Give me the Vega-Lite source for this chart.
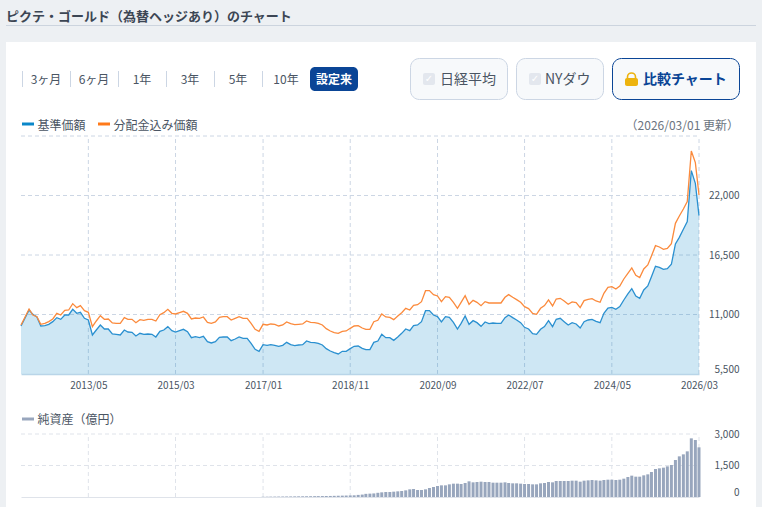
{
  "$schema": "https://vega.github.io/schema/vega-lite/v6.json",
  "description": "Fund price chart with a net assets panel underneath, on one canvas.",
  "width": 762,
  "height": 507,
  "padding": 0,
  "autosize": "none",
  "background": "#edf0f3",
  "config": {
    "font": "Noto Sans CJK JP",
    "view": {"stroke": null},
    "text": {"font": "Noto Sans CJK JP", "baseline": "middle", "color": "#4a5563"}
  },
  "data": {"values": [{"part": "chrome"}]},
  "datasets": {
    "fund": [
      {"date":"2011-12-01","base":9938,"dist":10030,"assets":0},
      {"date":"2012-01-01","base":10677,"dist":10770,"assets":0},
      {"date":"2012-02-01","base":11417,"dist":11509,"assets":0},
      {"date":"2012-03-01","base":11016,"dist":10955,"assets":0},
      {"date":"2012-04-01","base":10770,"dist":10801,"assets":0},
      {"date":"2012-05-01","base":9938,"dist":10092,"assets":0},
      {"date":"2012-06-01","base":9969,"dist":10184,"assets":0},
      {"date":"2012-07-01","base":10092,"dist":10338,"assets":0},
      {"date":"2012-08-01","base":10338,"dist":10585,"assets":0},
      {"date":"2012-09-01","base":10708,"dist":11109,"assets":0},
      {"date":"2012-10-01","base":10554,"dist":10955,"assets":0},
      {"date":"2012-11-01","base":10955,"dist":11386,"assets":0},
      {"date":"2012-12-01","base":10955,"dist":11417,"assets":0},
      {"date":"2013-01-01","base":11478,"dist":12002,"assets":0},
      {"date":"2013-02-01","base":11109,"dist":11633,"assets":0},
      {"date":"2013-03-01","base":11201,"dist":11817,"assets":0},
      {"date":"2013-04-01","base":10646,"dist":11355,"assets":0},
      {"date":"2013-05-01","base":10493,"dist":11201,"assets":0},
      {"date":"2013-06-01","base":9106,"dist":9876,"assets":0},
      {"date":"2013-07-01","base":9568,"dist":10400,"assets":0},
      {"date":"2013-08-01","base":10030,"dist":10893,"assets":0},
      {"date":"2013-09-01","base":9661,"dist":10554,"assets":0},
      {"date":"2013-10-01","base":9661,"dist":10585,"assets":0},
      {"date":"2013-11-01","base":9198,"dist":10215,"assets":0},
      {"date":"2013-12-01","base":9168,"dist":10184,"assets":0},
      {"date":"2014-01-01","base":9106,"dist":10184,"assets":0},
      {"date":"2014-02-01","base":9568,"dist":10708,"assets":0},
      {"date":"2014-03-01","base":9383,"dist":10554,"assets":0},
      {"date":"2014-04-01","base":9353,"dist":10554,"assets":0},
      {"date":"2014-05-01","base":9014,"dist":10246,"assets":0},
      {"date":"2014-06-01","base":9260,"dist":10523,"assets":0},
      {"date":"2014-07-01","base":9168,"dist":10462,"assets":0},
      {"date":"2014-08-01","base":9198,"dist":10554,"assets":0},
      {"date":"2014-09-01","base":9168,"dist":10554,"assets":0},
      {"date":"2014-10-01","base":8921,"dist":10400,"assets":0},
      {"date":"2014-11-01","base":9445,"dist":10986,"assets":0},
      {"date":"2014-12-01","base":9568,"dist":11170,"assets":0},
      {"date":"2015-01-01","base":9876,"dist":11478,"assets":0},
      {"date":"2015-02-01","base":9507,"dist":11109,"assets":0},
      {"date":"2015-03-01","base":9383,"dist":11047,"assets":0},
      {"date":"2015-04-01","base":9507,"dist":11170,"assets":0},
      {"date":"2015-05-01","base":9630,"dist":11294,"assets":0},
      {"date":"2015-06-01","base":9414,"dist":11109,"assets":0},
      {"date":"2015-07-01","base":8860,"dist":10585,"assets":0},
      {"date":"2015-08-01","base":8952,"dist":10677,"assets":0},
      {"date":"2015-09-01","base":8860,"dist":10646,"assets":0},
      {"date":"2015-10-01","base":8983,"dist":10770,"assets":0},
      {"date":"2015-11-01","base":8490,"dist":10277,"assets":0},
      {"date":"2015-12-01","base":8367,"dist":10184,"assets":0},
      {"date":"2016-01-01","base":8490,"dist":10308,"assets":0},
      {"date":"2016-02-01","base":8890,"dist":10739,"assets":0},
      {"date":"2016-03-01","base":8921,"dist":10801,"assets":0},
      {"date":"2016-04-01","base":8921,"dist":10801,"assets":0},
      {"date":"2016-05-01","base":8582,"dist":10493,"assets":0},
      {"date":"2016-06-01","base":8736,"dist":10646,"assets":0},
      {"date":"2016-07-01","base":8921,"dist":10801,"assets":0},
      {"date":"2016-08-01","base":8798,"dist":10646,"assets":0},
      {"date":"2016-09-01","base":8798,"dist":10646,"assets":0},
      {"date":"2016-10-01","base":8336,"dist":10184,"assets":0},
      {"date":"2016-11-01","base":7781,"dist":9630,"assets":0},
      {"date":"2016-12-01","base":7596,"dist":9445,"assets":0},
      {"date":"2017-01-01","base":8212,"dist":10092,"assets":12},
      {"date":"2017-02-01","base":8151,"dist":10030,"assets":15},
      {"date":"2017-03-01","base":8212,"dist":10123,"assets":18},
      {"date":"2017-04-01","base":8151,"dist":10092,"assets":20},
      {"date":"2017-05-01","base":8059,"dist":9938,"assets":22},
      {"date":"2017-06-01","base":8151,"dist":10030,"assets":24},
      {"date":"2017-07-01","base":8428,"dist":10308,"assets":26},
      {"date":"2017-08-01","base":8212,"dist":10154,"assets":28},
      {"date":"2017-09-01","base":8120,"dist":10061,"assets":30},
      {"date":"2017-10-01","base":8182,"dist":10092,"assets":32},
      {"date":"2017-11-01","base":8212,"dist":10123,"assets":34},
      {"date":"2017-12-01","base":8551,"dist":10400,"assets":36},
      {"date":"2018-01-01","base":8428,"dist":10277,"assets":38},
      {"date":"2018-02-01","base":8397,"dist":10246,"assets":40},
      {"date":"2018-03-01","base":8336,"dist":10184,"assets":42},
      {"date":"2018-04-01","base":8182,"dist":10030,"assets":45},
      {"date":"2018-05-01","base":7843,"dist":9691,"assets":48},
      {"date":"2018-06-01","base":7627,"dist":9476,"assets":50},
      {"date":"2018-07-01","base":7473,"dist":9322,"assets":55},
      {"date":"2018-08-01","base":7350,"dist":9260,"assets":60},
      {"date":"2018-09-01","base":7596,"dist":9445,"assets":65},
      {"date":"2018-10-01","base":7596,"dist":9476,"assets":70},
      {"date":"2018-11-01","base":7843,"dist":9722,"assets":75},
      {"date":"2018-12-01","base":8059,"dist":9938,"assets":80},
      {"date":"2019-01-01","base":8089,"dist":9969,"assets":100},
      {"date":"2019-02-01","base":7874,"dist":9753,"assets":115},
      {"date":"2019-03-01","base":7750,"dist":9630,"assets":150},
      {"date":"2019-04-01","base":7750,"dist":9630,"assets":160},
      {"date":"2019-05-01","base":8428,"dist":10338,"assets":170},
      {"date":"2019-06-01","base":8551,"dist":10462,"assets":200},
      {"date":"2019-07-01","base":9168,"dist":11047,"assets":222},
      {"date":"2019-08-01","base":8860,"dist":10770,"assets":238},
      {"date":"2019-09-01","base":8860,"dist":10739,"assets":238},
      {"date":"2019-10-01","base":8613,"dist":10523,"assets":254},
      {"date":"2019-11-01","base":8921,"dist":10862,"assets":270},
      {"date":"2019-12-01","base":9260,"dist":11170,"assets":286},
      {"date":"2020-01-01","base":9661,"dist":11571,"assets":317},
      {"date":"2020-02-01","base":9507,"dist":11417,"assets":365},
      {"date":"2020-03-01","base":9969,"dist":11848,"assets":381},
      {"date":"2020-04-01","base":10030,"dist":11910,"assets":333},
      {"date":"2020-05-01","base":10338,"dist":12187,"assets":333},
      {"date":"2020-06-01","base":11355,"dist":13204,"assets":365},
      {"date":"2020-07-01","base":11355,"dist":13204,"assets":428},
      {"date":"2020-08-01","base":10955,"dist":12834,"assets":476},
      {"date":"2020-09-01","base":10801,"dist":12711,"assets":524},
      {"date":"2020-10-01","base":10308,"dist":12187,"assets":555},
      {"date":"2020-11-01","base":10801,"dist":12649,"assets":555},
      {"date":"2020-12-01","base":10739,"dist":12588,"assets":603},
      {"date":"2021-01-01","base":10277,"dist":12125,"assets":635},
      {"date":"2021-02-01","base":9661,"dist":11571,"assets":635},
      {"date":"2021-03-01","base":10184,"dist":12125,"assets":619},
      {"date":"2021-04-01","base":10862,"dist":12742,"assets":667},
      {"date":"2021-05-01","base":10092,"dist":11941,"assets":746},
      {"date":"2021-06-01","base":10431,"dist":12310,"assets":698},
      {"date":"2021-07-01","base":10246,"dist":12125,"assets":714},
      {"date":"2021-08-01","base":9907,"dist":11817,"assets":730},
      {"date":"2021-09-01","base":10308,"dist":12187,"assets":714},
      {"date":"2021-10-01","base":10154,"dist":12064,"assets":714},
      {"date":"2021-11-01","base":10215,"dist":12064,"assets":682},
      {"date":"2021-12-01","base":10184,"dist":12064,"assets":682},
      {"date":"2022-01-01","base":10184,"dist":12064,"assets":682},
      {"date":"2022-02-01","base":10708,"dist":12588,"assets":698},
      {"date":"2022-03-01","base":10955,"dist":12834,"assets":667},
      {"date":"2022-04-01","base":10708,"dist":12588,"assets":651},
      {"date":"2022-05-01","base":10493,"dist":12372,"assets":651},
      {"date":"2022-06-01","base":10247,"dist":12126,"assets":635},
      {"date":"2022-07-01","base":9815,"dist":11726,"assets":619},
      {"date":"2022-08-01","base":9661,"dist":11541,"assets":619},
      {"date":"2022-09-01","base":9230,"dist":11110,"assets":603},
      {"date":"2022-10-01","base":9169,"dist":11017,"assets":603},
      {"date":"2022-11-01","base":9630,"dist":11571,"assets":651},
      {"date":"2022-12-01","base":9877,"dist":11818,"assets":667},
      {"date":"2023-01-01","base":10432,"dist":12342,"assets":714},
      {"date":"2023-02-01","base":9877,"dist":11787,"assets":698},
      {"date":"2023-03-01","base":10555,"dist":12434,"assets":762},
      {"date":"2023-04-01","base":10647,"dist":12496,"assets":762},
      {"date":"2023-05-01","base":10339,"dist":12249,"assets":762},
      {"date":"2023-06-01","base":10031,"dist":11941,"assets":762},
      {"date":"2023-07-01","base":10247,"dist":12157,"assets":778},
      {"date":"2023-08-01","base":10124,"dist":12095,"assets":778},
      {"date":"2023-09-01","base":9754,"dist":11633,"assets":730},
      {"date":"2023-10-01","base":10339,"dist":12280,"assets":778},
      {"date":"2023-11-01","base":10493,"dist":12404,"assets":793},
      {"date":"2023-12-01","base":10555,"dist":12465,"assets":809},
      {"date":"2024-01-01","base":10370,"dist":12249,"assets":793},
      {"date":"2024-02-01","base":10247,"dist":12126,"assets":778},
      {"date":"2024-03-01","base":11110,"dist":12958,"assets":809},
      {"date":"2024-04-01","base":11602,"dist":13512,"assets":825},
      {"date":"2024-05-01","base":11664,"dist":13574,"assets":825},
      {"date":"2024-06-01","base":11479,"dist":13359,"assets":809},
      {"date":"2024-07-01","base":11726,"dist":13636,"assets":825},
      {"date":"2024-08-01","base":12342,"dist":14283,"assets":873},
      {"date":"2024-09-01","base":12897,"dist":14807,"assets":952},
      {"date":"2024-10-01","base":13389,"dist":15300,"assets":1016},
      {"date":"2024-11-01","base":12712,"dist":14622,"assets":968},
      {"date":"2024-12-01","base":12496,"dist":14407,"assets":968},
      {"date":"2025-01-01","base":13266,"dist":15207,"assets":1032},
      {"date":"2025-02-01","base":13636,"dist":15577,"assets":1079},
      {"date":"2025-03-01","base":14499,"dist":16409,"assets":1190},
      {"date":"2025-04-01","base":15454,"dist":17364,"assets":1333},
      {"date":"2025-05-01","base":15361,"dist":17241,"assets":1365},
      {"date":"2025-06-01","base":15177,"dist":17025,"assets":1397},
      {"date":"2025-07-01","base":15238,"dist":17118,"assets":1460},
      {"date":"2025-08-01","base":15639,"dist":17549,"assets":1524},
      {"date":"2025-09-01","base":17518,"dist":19428,"assets":1762},
      {"date":"2025-10-01","base":18134,"dist":20106,"assets":1936},
      {"date":"2025-11-01","base":18874,"dist":20753,"assets":2031},
      {"date":"2025-12-01","base":19582,"dist":21431,"assets":2174},
      {"date":"2026-01-01","base":24296,"dist":26114,"assets":2793},
      {"date":"2026-02-01","base":23125,"dist":25036,"assets":2714},
      {"date":"2026-03-01","base":20137,"dist":22047,"assets":2365}
    ],
    "mainH": [
      {"date":"2011-12-01","end":"2026-03-01","value":11000},
      {"date":"2011-12-01","end":"2026-03-01","value":16500},
      {"date":"2011-12-01","end":"2026-03-01","value":22000},
      {"date":"2011-12-01","end":"2026-03-01","value":27500}
    ],
    "mainV": [
      {"date":"2013-05-01","lo":5500,"hi":27500},
      {"date":"2015-03-01","lo":5500,"hi":27500},
      {"date":"2017-01-01","lo":5500,"hi":27500},
      {"date":"2018-11-01","lo":5500,"hi":27500},
      {"date":"2020-09-01","lo":5500,"hi":27500},
      {"date":"2022-07-01","lo":5500,"hi":27500},
      {"date":"2024-05-01","lo":5500,"hi":27500},
      {"date":"2026-03-01","lo":5500,"hi":27500}
    ],
    "lowerH": [
      {"date":"2011-12-01","end":"2026-03-01","value":1500},
      {"date":"2011-12-01","end":"2026-03-01","value":3000}
    ],
    "lowerV": [
      {"date":"2013-05-01","lo":0,"hi":3000},
      {"date":"2015-03-01","lo":0,"hi":3000},
      {"date":"2017-01-01","lo":0,"hi":3000},
      {"date":"2018-11-01","lo":0,"hi":3000},
      {"date":"2020-09-01","lo":0,"hi":3000},
      {"date":"2022-07-01","lo":0,"hi":3000},
      {"date":"2024-05-01","lo":0,"hi":3000},
      {"date":"2026-03-01","lo":0,"hi":3000}
    ]
  },
  "layer": [
    {"mark": {"type":"rect","x":6,"y":42,"x2":756,"y2":507,"fill":"#ffffff"}},
    {"mark": {"type":"rect","x":6,"y":25,"x2":756,"y2":26,"fill":"#ccd4de"}},
    {"mark": {"type":"text","x":6,"y":17,"align":"left","text":"ピクテ・ゴールド（為替ヘッジあり）のチャート","fontSize":13,"fontWeight":"bold","color":"#3c4654"}},

    {"mark": {"type":"rect","x":22,"y":71,"x2":23,"y2":87,"fill":"#ccd6e4"}},
    {"mark": {"type":"rect","x":70,"y":71,"x2":71,"y2":87,"fill":"#ccd6e4"}},
    {"mark": {"type":"rect","x":118,"y":71,"x2":119,"y2":87,"fill":"#ccd6e4"}},
    {"mark": {"type":"rect","x":166,"y":71,"x2":167,"y2":87,"fill":"#ccd6e4"}},
    {"mark": {"type":"rect","x":214,"y":71,"x2":215,"y2":87,"fill":"#ccd6e4"}},
    {"mark": {"type":"rect","x":262,"y":71,"x2":263,"y2":87,"fill":"#ccd6e4"}},
    {"mark": {"type":"text","x":46,"y":80,"text":"3ヶ月","fontSize":12}},
    {"mark": {"type":"text","x":94,"y":80,"text":"6ヶ月","fontSize":12}},
    {"mark": {"type":"text","x":142,"y":80,"text":"1年","fontSize":12}},
    {"mark": {"type":"text","x":190,"y":80,"text":"3年","fontSize":12}},
    {"mark": {"type":"text","x":238,"y":80,"text":"5年","fontSize":12}},
    {"mark": {"type":"text","x":286,"y":80,"text":"10年","fontSize":12}},
    {"mark": {"type":"rect","x":310,"y":67,"x2":358,"y2":91,"fill":"#0a4596","cornerRadius":5}},
    {"mark": {"type":"text","x":334,"y":80,"text":"設定来","fontSize":12,"fontWeight":"bold","color":"#ffffff"}},

    {"mark": {"type":"rect","x":410.5,"y":58.5,"x2":507.5,"y2":99.5,"fill":"#f7f9fb","stroke":"#ccd6e4","cornerRadius":9}},
    {"mark": {"type":"rect","x":423,"y":73,"x2":435,"y2":85,"fill":"#e3e7ee","cornerRadius":2}},
    {"mark": {"type":"text","x":429,"y":79,"text":"✓","font":"DejaVu Sans","fontSize":10,"color":"#ffffff"}},
    {"mark": {"type":"text","x":440,"y":80,"align":"left","text":"日経平均","fontSize":14}},
    {"mark": {"type":"rect","x":516.5,"y":58.5,"x2":603.5,"y2":99.5,"fill":"#f7f9fb","stroke":"#ccd6e4","cornerRadius":9}},
    {"mark": {"type":"rect","x":529,"y":73,"x2":541,"y2":85,"fill":"#e3e7ee","cornerRadius":2}},
    {"mark": {"type":"text","x":535,"y":79,"text":"✓","font":"DejaVu Sans","fontSize":10,"color":"#ffffff"}},
    {"mark": {"type":"text","x":545,"y":80,"align":"left","text":"NYダウ","fontSize":14}},
    {"mark": {"type":"rect","x":612.5,"y":58.5,"x2":739.5,"y2":99.5,"fill":"#f7f9fb","stroke":"#0a4596","cornerRadius":9}},
    {"mark": {"type":"rect","x":627.5,"y":73,"x2":635.5,"y2":82,"fill":null,"stroke":"#edb30e","strokeWidth":1.6,"cornerRadius":4}},
    {"mark": {"type":"rect","x":625,"y":78,"x2":638,"y2":86,"fill":"#edb30e","cornerRadius":2}},
    {"mark": {"type":"text","x":643,"y":80,"align":"left","text":"比較チャート","fontSize":14,"fontWeight":"bold","color":"#0a4596"}},

    {"mark": {"type":"rect","x":22,"y":122.5,"x2":34,"y2":125.5,"fill":"#0a87c9"}},
    {"mark": {"type":"text","x":37.5,"y":125.5,"align":"left","text":"基準価額","fontSize":12}},
    {"mark": {"type":"rect","x":98,"y":122.5,"x2":110,"y2":125.5,"fill":"#ff7a1a"}},
    {"mark": {"type":"text","x":113.5,"y":125.5,"align":"left","text":"分配金込み価額","fontSize":12}},
    {"mark": {"type":"text","x":739,"y":125.5,"align":"right","text":"（2026/03/01 更新）","fontSize":12,"color":"#6b7480"}},
    {"mark": {"type":"rect","x":22,"y":417.5,"x2":34,"y2":420.5,"fill":"#98a6bd"}},
    {"mark": {"type":"text","x":37.5,"y":419.5,"align":"left","text":"純資産（億円）","fontSize":12}},

    {
      "encoding": {
        "x": {
          "field": "date",
          "type": "temporal",
          "scale": {
            "type": "utc",
            "domain": [{"year":2011,"month":12,"date":1,"utc":true},{"year":2026,"month":3,"date":1,"utc":true}],
            "range": [21, 699],
            "padding": 0
          },
          "axis": {
            "orient": "bottom",
            "offset": -133,
            "zindex": 1,
            "title": null,
            "grid": false,
            "ticks": false,
            "domainColor": "#b9d5e8",
            "domainWidth": 1.5,
            "format": "%Y/%m",
            "values": [
              {"year":2013,"month":5,"date":1,"utc":true},
              {"year":2015,"month":3,"date":1,"utc":true},
              {"year":2017,"month":1,"date":1,"utc":true},
              {"year":2018,"month":11,"date":1,"utc":true},
              {"year":2020,"month":9,"date":1,"utc":true},
              {"year":2022,"month":7,"date":1,"utc":true},
              {"year":2024,"month":5,"date":1,"utc":true},
              {"year":2026,"month":3,"date":1,"utc":true}
            ],
            "labelFontSize": 10,
            "labelColor": "#4a5563",
            "labelPadding": 6,
            "labelOverlap": false,
            "labelBound": false,
            "labelFlush": false
          }
        },
        "y": {
          "field": "value",
          "type": "quantitative",
          "scale": {"domain": [5500, 27500], "range": [374, 136], "zero": false, "nice": false},
          "axis": {
            "orient": "right",
            "offset": -63,
            "zindex": 1,
            "title": null,
            "grid": false,
            "ticks": false,
            "domain": false,
            "values": [5500, 11000, 16500, 22000],
            "labelExpr": "format(datum.value, ',')",
            "labelFontSize": 10,
            "labelColor": "#4a5563",
            "labelAlign": "right",
            "labelPadding": 40,
            "labelBaseline": {"condition": {"test": "datum.value == 5500", "value": "bottom"}, "value": "middle"},
            "labelOverlap": false,
            "labelBound": false
          }
        }
      },
      "layer": [
        {
          "data": {"name": "mainH"},
          "mark": {"type": "rule", "color": "#ccd6e4", "strokeDash": [4, 3]},
          "encoding": {"x2": {"field": "end"}}
        },
        {
          "data": {"name": "mainV"},
          "mark": {"type": "rule", "color": "#ccd6e4", "strokeDash": [4, 3]},
          "encoding": {"y": {"field": "lo", "type": "quantitative"}, "y2": {"field": "hi"}}
        },
        {
          "data": {"name": "fund"},
          "mark": {"type": "area", "color": "#0a87c9", "opacity": 0.2},
          "encoding": {"y": {"field": "base", "type": "quantitative"}, "y2": {"datum": 5500}}
        },
        {
          "data": {"name": "fund"},
          "mark": {"type": "line", "color": "#2a90d0", "strokeWidth": 1.3},
          "encoding": {"y": {"field": "base", "type": "quantitative"}}
        },
        {
          "data": {"name": "fund"},
          "mark": {"type": "line", "color": "#fb8a3c", "strokeWidth": 1.3},
          "encoding": {"y": {"field": "dist", "type": "quantitative"}}
        }
      ]
    },
    {
      "encoding": {
        "x": {
          "field": "date",
          "type": "temporal",
          "scale": {
            "type": "utc",
            "domain": [{"year":2011,"month":12,"date":1,"utc":true},{"year":2026,"month":3,"date":1,"utc":true}],
            "range": [21, 699],
            "padding": 0
          },
          "axis": {"orient": "bottom", "offset": -10, "zindex": 1, "title": null, "grid": false, "ticks": false, "labels": false, "domainColor": "#dfe3ea", "domainWidth": 1}
        },
        "y": {
          "field": "value",
          "type": "quantitative",
          "scale": {"domain": [0, 3000], "range": [497, 434], "nice": false},
          "axis": {
            "orient": "right",
            "offset": -63,
            "zindex": 1,
            "title": null,
            "grid": false,
            "ticks": false,
            "domain": false,
            "values": [0, 1500, 3000],
            "labelExpr": "format(datum.value, ',')",
            "labelFontSize": 10,
            "labelColor": "#4a5563",
            "labelAlign": "right",
            "labelPadding": 40,
            "labelBaseline": {"condition": {"test": "datum.value == 0", "value": "bottom"}, "value": "middle"},
            "labelOverlap": false,
            "labelBound": false
          }
        }
      },
      "layer": [
        {
          "data": {"name": "lowerH"},
          "mark": {"type": "rule", "color": "#dfe3ea", "strokeDash": [4, 3]},
          "encoding": {"x2": {"field": "end"}}
        },
        {
          "data": {"name": "lowerV"},
          "mark": {"type": "rule", "color": "#dfe3ea", "strokeDash": [4, 3]},
          "encoding": {"y": {"field": "lo", "type": "quantitative"}, "y2": {"field": "hi"}}
        },
        {
          "data": {"name": "fund"},
          "mark": {"type": "bar", "color": "#98a6bd", "size": 3},
          "encoding": {"y": {"field": "assets", "type": "quantitative"}}
        }
      ]
    }
  ],
  "resolve": {
    "scale": {"y": "independent"},
    "axis": {"x": "independent", "y": "independent"}
  }
}
